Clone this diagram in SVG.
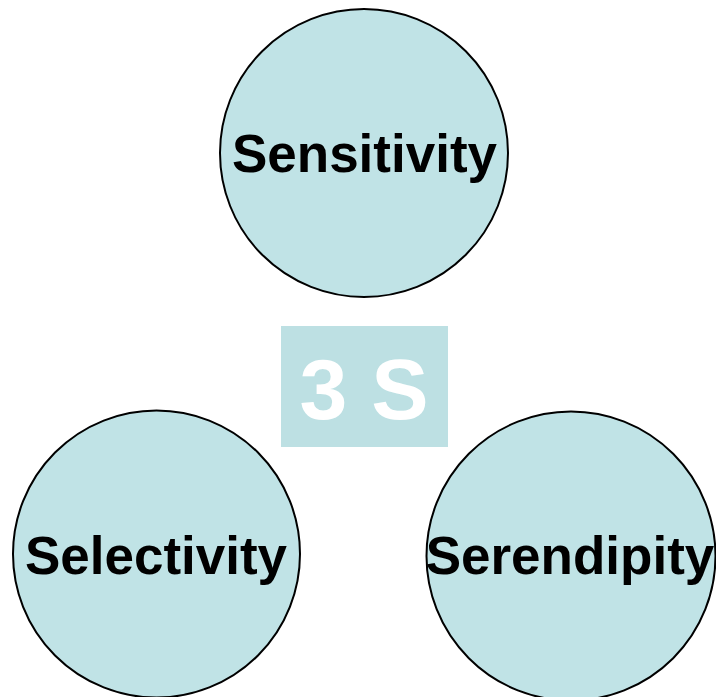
<svg xmlns="http://www.w3.org/2000/svg" width="716" height="697" viewBox="0 0 716 697">
<style>
.c{fill:#C0E3E6;stroke:#000;stroke-width:2}
.t{font-family:"Liberation Sans",Arial,sans-serif;font-weight:bold;font-size:53px;fill:#000;text-anchor:middle}
.b{font-family:"Liberation Sans",Arial,sans-serif;font-weight:bold;font-size:86px;fill:#fff;text-anchor:middle}
</style>
<rect width="716" height="697" fill="#fff"/>
<g id="center">
<rect x="281" y="326" width="167" height="121" fill="#BDE0E3"/>
<text class="b" x="364" y="419">3 S</text>
</g>
<g id="sensitivity">
<circle class="c" cx="364" cy="153" r="144"/>
<text class="t" x="364.5" y="172">Sensitivity</text>
</g>
<g id="selectivity">
<circle class="c" cx="156.5" cy="554" r="143.5"/>
<text class="t" x="156" y="574">Selectivity</text>
</g>
<g id="serendipity">
<circle class="c" cx="571" cy="556" r="144.5"/>
<text class="t" x="570" y="574">Serendipity</text>
</g>
<g id="connectors"/>
</svg>
